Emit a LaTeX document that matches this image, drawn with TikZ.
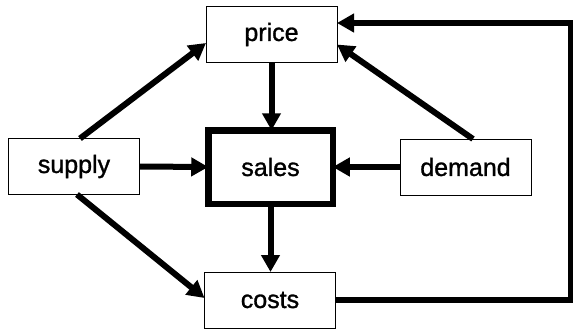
\documentclass[tikz,border=0pt]{standalone}
\usepackage{fontspec}
\setmainfont{Liberation Sans}
\newfontfamily\labelfont{Liberation Sans}[FakeBold=1.2]
\usepackage{tikz}
\usetikzlibrary{arrows.meta}
\tikzset{>={Triangle[width=18pt,length=17pt]}}

\begin{document}
\begin{tikzpicture}[
    x = 1pt, y = -1pt,
    box/.style = {draw, line width=0.8pt, minimum width=131pt,
        minimum height=56pt, inner sep=0pt, outer sep=0pt,
        font=\labelfont\fontsize{25}{30}\selectfont},
    mainbox/.style = {box, line width=6.5pt, minimum width=124.5pt,
        minimum height=73.5pt},
    flow/.style = {->, line width=6pt}
  ]
  \useasboundingbox (0,0) rectangle (573,330);

  \node[box] (price) at (271.5,34.5) {price};
  \node[mainbox] (sales) at (270.5,167) {sales};
  \node[box] (supply) at (74,166.5) {supply};
  \node[box] (demand) at (465.5,167) {demand};
  \node[box] (costs) at (270,300) {costs};
  \coordinate (turn) at (570.8,23);

  \draw[flow] ([xshift=6pt]supply.north) -- ([yshift=-8.5pt]price.west);
  \draw[flow] ([xshift=3pt]supply.south) -- ([yshift=2pt]costs.west);
  \draw[flow] ([xshift=7.5pt]demand.north) -- ([yshift=-10pt]price.east);
  \draw[flow] (supply.east) -- (sales.west);
  \draw[flow] (demand.west) -- (sales.east);
  \draw[flow] (price.south) -- (price.south |- sales.north);
  \draw[flow] (sales.south) -- (sales.south |- costs.north);
  \draw[flow] (costs.east) -| (turn) -- ([yshift=11.5pt]price.east);
\end{tikzpicture}
\end{document}
